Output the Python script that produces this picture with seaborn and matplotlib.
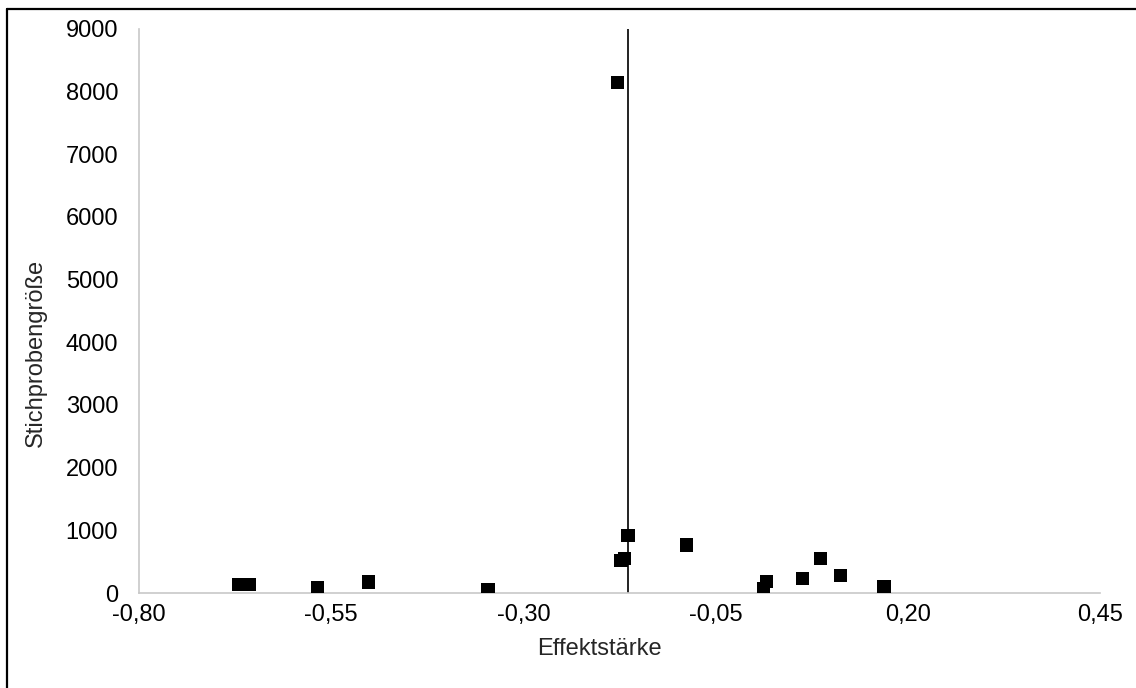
import matplotlib
matplotlib.use("Agg")
import matplotlib.pyplot as plt
import seaborn as sns
import pandas as pd
from matplotlib.lines import Line2D

# Data
effect = [-0.671, -0.657, -0.568, -0.501, -0.346,
          -0.178, -0.164, -0.173, -0.169, -0.088,
          0.0165, 0.012, 0.063, 0.086, 0.112, 0.169]
sample = [140, 135, 80, 176, 48,
          8150, 916, 520, 545, 767,
          181, 64, 235, 555, 277, 101]
mean_effect = -0.164

x_ticks = [-0.80, -0.55, -0.30, -0.05, 0.20, 0.45]
x_tick_labels = ["-0,80", "-0,55", "-0,30", "-0,05", "0,20", "0,45"]
y_ticks = [0, 1000, 2000, 3000, 4000, 5000, 6000, 7000, 8000, 9000]
y_tick_labels = [str(v) for v in y_ticks]

df = pd.DataFrame({"Effektstärke": effect, "Stichprobengröße": sample})

sns.set_style("white")
plt.rcParams["font.family"] = ["Liberation Sans", "DejaVu Sans"]

W, H = 1136, 688
fig = plt.figure(figsize=(W / 100, H / 100), dpi=100)
ax = fig.add_axes([139 / W, 1 - 593 / H, (1100 - 139) / W, (593 - 29) / H])

ax.axvline(mean_effect, color="#222222", lw=1.4, zorder=1)
sns.scatterplot(data=df, x="Effektstärke", y="Stichprobengröße", ax=ax,
                marker="s", s=90, color="black", edgecolor="none",
                linewidth=0, zorder=3)

ax.set_xlim(-0.80, 0.45)
ax.set_ylim(0, 9000)
ax.set_xticks(x_ticks)
ax.set_xticklabels(x_tick_labels)
ax.set_yticks(y_ticks)
ax.set_yticklabels(y_tick_labels)
ax.tick_params(axis="both", length=0, labelsize=17, colors="black")
ax.tick_params(axis="x", pad=8)
ax.tick_params(axis="y", pad=15)

for s in ["top", "right"]:
    ax.spines[s].set_visible(False)
for s in ["left", "bottom"]:
    ax.spines[s].set_color("#c8c8c8")
    ax.spines[s].set_linewidth(1.2)

ax.set_xlabel("Effektstärke", fontsize=17)
ax.set_ylabel("Stichprobengröße", fontsize=17)
ax.xaxis.set_label_coords(0.479, -0.080)
ax.yaxis.set_label_coords(-0.096, 0.425)

# outer frame lines (left and top)
fig.add_artist(Line2D([7 / W, 7 / W], [0, 1 - 9 / H], transform=fig.transFigure,
                      color="black", lw=1.6))
fig.add_artist(Line2D([7 / W, 1], [1 - 9 / H, 1 - 9 / H], transform=fig.transFigure,
                      color="black", lw=1.6))

fig.savefig("out.png", dpi=100)
